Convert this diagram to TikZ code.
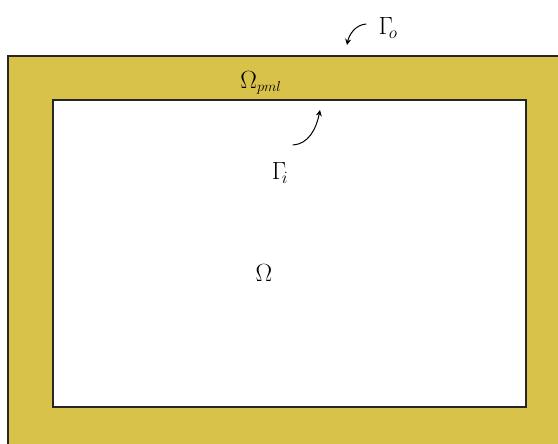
\documentclass[tikz,border=0pt]{standalone}
\usetikzlibrary{arrows.meta}
\definecolor{pml}{HTML}{D9C24A}
\tikzset{
  lbl/.style={inner sep=0pt, font=\fontsize{34}{36}\selectfont},
  ptr/.style={-{Stealth[length=6pt,width=6pt]}, line width=1pt, line cap=round},
  bnd/.style={draw=black!85, line width=1.2pt}
}
\begin{document}
\begin{tikzpicture}[x=1pt,y=-1pt]
\useasboundingbox (0,0) rectangle (558,444);
\clip (0,0) rectangle (558,444);
\fill[pml, bnd] (8,56) rectangle (570,460);
\fill[white, bnd] (53,100) rectangle (526,407);
\node[lbl] (go) at (388,28) {$\Gamma_{\!\scriptscriptstyle o}$};
\node[lbl, font=\fontsize{29}{31}\selectfont] (pml) at (261,83) {$\Omega_{\scriptscriptstyle pml}$};
\node[lbl] (gi) at (280,173) {$\Gamma_{\!\scriptscriptstyle i}$};
\node[lbl, font=\fontsize{31}{33}\selectfont] (om) at (264,273) {$\Omega$};
\coordinate (go0) at (366,24);
\coordinate (go1) at (347,45);
\coordinate (gi0) at (293,145);
\coordinate (gi1) at (320,110);
\draw[ptr] (go0) .. controls (355,25) and (349,35) .. (go1);
\draw[ptr] (gi0) .. controls (308,144) and (316,130) .. (gi1);
\end{tikzpicture}
\end{document}
